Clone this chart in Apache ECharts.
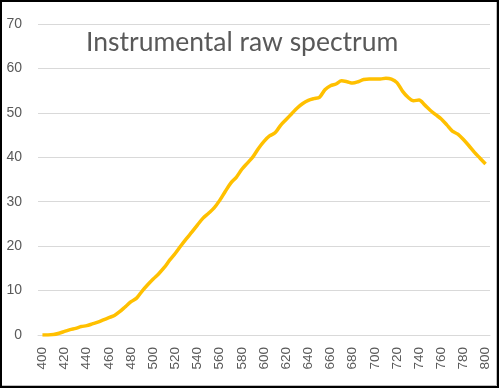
<!DOCTYPE html>
<html>
<head>
<meta charset="utf-8">
<script src="https://cdn.jsdelivr.net/npm/echarts@6/dist/echarts.min.js"></script>
<style>
html,body{margin:0;padding:0;background:#fff;}
#c{width:500px;height:389px;}
</style>
</head>
<body>
<div id="c"></div>
<script>
var titleText = "Instrumental raw spectrum";
var wavelengths = [400,405,410,415,420,425,430,435,440,445,450,455,460,465,470,475,480,485,490,495,500,505,510,515,520,525,530,535,540,545,550,555,560,565,570,575,580,585,590,595,600,605,610,615,620,625,630,635,640,645,650,655,660,665,670,675,680,685,690,695,700,705,710,715,720,725,730,735,740,745,750,755,760,765,770,775,780,785,790,795,800];
var intensity = [0,0,0.1,0.4,0.8,1.2,1.5,1.9,2.1,2.5,2.9,3.4,3.9,4.4,5.3,6.4,7.5,8.3,9.9,11.3,12.6,13.8,15.2,16.9,18.4,20.1,21.7,23.2,24.8,26.3,27.4,28.6,30.3,32.3,34.2,35.5,37.3,38.7,40.1,42.0,43.6,44.8,45.5,47.2,48.5,49.8,51.1,52.1,52.8,53.2,53.5,55.2,56.1,56.5,57.2,57.0,56.7,57.0,57.5,57.6,57.6,57.6,57.8,57.6,56.8,54.9,53.5,52.7,52.9,51.8,50.6,49.6,48.6,47.3,45.9,45.2,44.0,42.6,41.1,39.8,38.5];
var xTickLabels = [400,420,440,460,480,500,520,540,560,580,600,620,640,660,680,700,720,740,760,780,800];

var pts = wavelengths.map(function(w,i){return [w,intensity[i]];});
var chart = echarts.init(document.getElementById('c'), null, {renderer:'canvas'});
chart.setOption({
  animation:false,
  backgroundColor:'#fff',
  title:{
    text:titleText,
    left:81, top:24,
    textStyle:{fontFamily:'Lato',fontSize:26.5,fontWeight:'normal',color:'#595959'}
  },
  grid:{left:38,right:10,top:24,bottom:54,containLabel:false},
  xAxis:{
    type:'value',min:396,max:804,
    axisLine:{show:true,lineStyle:{color:'#d9d9d9',width:1}},
    axisTick:{show:false},
    splitLine:{show:false},
    axisLabel:{
      customValues:xTickLabels,
      rotate:90,margin:12,
      fontFamily:'Liberation Sans',fontSize:13.5,color:'#595959'
    }
  },
  yAxis:{
    type:'value',min:0,max:70,interval:10,
    axisLine:{show:false},axisTick:{show:false},
    splitLine:{lineStyle:{color:'#d9d9d9',width:1}},
    axisLabel:{margin:16,fontFamily:'Liberation Sans',fontSize:14,color:'#595959'}
  },
  series:[{
    type:'line',data:pts,showSymbol:false,smooth:0.3,
    lineStyle:{color:'#FFC000',width:3.5},
    itemStyle:{color:'#FFC000'}
  }],
  graphic:[
    {type:'rect',shape:{x:1,y:1,width:497,height:386},style:{fill:'none',stroke:'#000',lineWidth:2},z:100},
    {type:'line',shape:{x1:496.5,y1:2,x2:496.5,y2:385.5},style:{stroke:'#bfbfbf',lineWidth:1},z:99},
    {type:'line',shape:{x1:2,y1:385.5,x2:496.5,y2:385.5},style:{stroke:'#bfbfbf',lineWidth:1},z:99}
  ]
});
</script>
</body>
</html>
